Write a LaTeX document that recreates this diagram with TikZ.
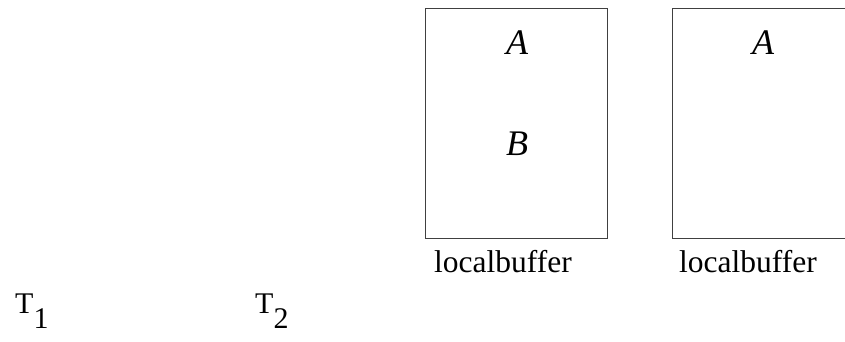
\documentclass[tikz,border=0pt]{standalone}
\usepackage{fontspec}
\setmainfont{Liberation Serif}
\usetikzlibrary{positioning}

\tikzset{
  buf/.style={draw=black!75, line width=0.9pt, minimum width=182pt, minimum height=230pt, inner sep=0pt},
  item/.style={anchor=base, font=\fontsize{36}{36}\selectfont\itshape, inner sep=0pt},
  lbl/.style={anchor=base west, font=\fontsize{31.5}{31.5}\selectfont, inner sep=0pt}
}

\begin{document}
\begin{tikzpicture}[x=1pt,y=-1pt]
\useasboundingbox (0,0) rectangle (845,341);
\clip (0,0) rectangle (845,341);

% the two local buffers
\node[buf] (buf1) at (516,123) {};
\node[buf] (buf2) at (763,123) {};

% entries
\node[item] (a1) at (517,54) {A};
\node[item] (b1) at (517,155) {B};
\node[item] (a2) at (763,54) {A};

% captions below the buffers
\node[lbl] (cap1) at (434,272) {localbuffer};
\node[lbl] (cap2) at (679,272) {localbuffer};

% threads
\foreach \x/\i in {15/1,255/2} {
  \node[lbl, font=\fontsize{30}{30}\selectfont] (t\i) at (\x,313) {T\raisebox{-15pt}{\i}};
}
\end{tikzpicture}
\end{document}
